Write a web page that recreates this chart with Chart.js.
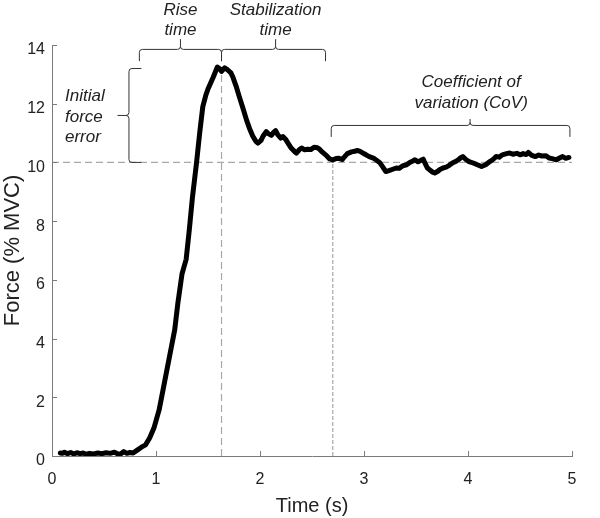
<!DOCTYPE html>
<html>
<head>
<meta charset="utf-8">
<script src="https://cdn.jsdelivr.net/npm/chart.js@4.4.0/dist/chart.umd.min.js"></script>
<style>
  body { margin: 0; background: #fff; }
</style>
</head>
<body>
<canvas id="force-chart" width="600" height="518"></canvas>
<script>
// tiempo (s) y fuerza (% MVC)
const timeS = [
  0.08, 0.10, 0.12, 0.15, 0.18, 0.21, 0.24, 0.27, 0.30, 0.33, 0.36, 0.40, 0.44, 0.48, 0.52, 0.56, 0.60, 0.63, 0.66, 0.69, 0.72, 0.75, 0.78,
  0.82, 0.86, 0.90, 0.94, 0.98, 1.03, 1.08, 1.13, 1.18, 1.21, 1.25, 1.27, 1.29, 1.32, 1.35, 1.39, 1.42, 1.45, 1.48, 1.50, 1.55, 1.59,
  1.61, 1.63, 1.66, 1.69, 1.72, 1.74, 1.77, 1.80, 1.84, 1.87, 1.90, 1.93, 1.96, 1.98, 2.01, 2.03, 2.06, 2.08, 2.11, 2.13, 2.15, 2.17,
  2.20, 2.22, 2.25, 2.28, 2.30, 2.33, 2.35, 2.38, 2.40, 2.43, 2.46, 2.49, 2.52, 2.55, 2.57, 2.60, 2.64, 2.67, 2.70, 2.73, 2.76, 2.79,
  2.81, 2.84, 2.88, 2.91, 2.94, 2.97, 3.01, 3.05, 3.09, 3.13, 3.15, 3.18, 3.21, 3.24, 3.27, 3.31, 3.34, 3.37, 3.41, 3.44, 3.47, 3.49,
  3.52, 3.55, 3.57, 3.59, 3.61, 3.64, 3.66, 3.68, 3.71, 3.73, 3.76, 3.79, 3.82, 3.85, 3.88, 3.91, 3.93, 3.95, 3.98, 4.01, 4.05, 4.09,
  4.13, 4.17, 4.21, 4.24, 4.27, 4.30, 4.33, 4.37, 4.40, 4.43, 4.47, 4.50, 4.53, 4.56, 4.58, 4.61, 4.63, 4.65, 4.68, 4.71, 4.75, 4.78,
  4.81, 4.85, 4.88, 4.91, 4.94, 4.97
];
const forceMVC = [
  0.10, 0.09, 0.13, 0.08, 0.12, 0.07, 0.11, 0.08, 0.10, 0.06, 0.09, 0.07, 0.10, 0.08, 0.11, 0.09, 0.13, 0.08, 0.07, 0.15, 0.09, 0.12, 0.10,
  0.20, 0.30, 0.38, 0.62, 0.95, 1.57, 2.48, 3.39, 4.30, 5.20, 6.20, 6.45, 6.70, 7.70, 8.80, 10.00, 11.00, 11.90, 12.30, 12.50, 12.90, 13.25,
  13.20, 13.10, 13.22, 13.15, 13.05, 12.90, 12.60, 12.25, 11.80, 11.45, 11.15, 10.90, 10.72, 10.66, 10.75, 10.90, 11.05, 10.98, 10.92, 11.02, 11.08, 10.95,
  10.83, 10.88, 10.77, 10.60, 10.49, 10.38, 10.32, 10.44, 10.49, 10.43, 10.45, 10.44, 10.52, 10.50, 10.46, 10.35, 10.23, 10.12, 10.09, 10.13, 10.14, 10.10,
  10.18, 10.30, 10.36, 10.38, 10.41, 10.36, 10.28, 10.20, 10.15, 10.05, 10.00, 9.85, 9.69, 9.72, 9.76, 9.81, 9.80, 9.88, 9.92, 10.00, 10.05, 10.09,
  10.02, 10.08, 10.11, 9.95, 9.81, 9.72, 9.67, 9.64, 9.70, 9.76, 9.81, 9.84, 9.90, 9.98, 10.03, 10.10, 10.16, 10.20, 10.10, 10.03, 9.98, 9.92,
  9.86, 9.92, 10.03, 10.10, 10.20, 10.18, 10.26, 10.30, 10.32, 10.28, 10.31, 10.26, 10.30, 10.27, 10.34, 10.25, 10.22, 10.20, 10.25, 10.22, 10.23, 10.15,
  10.13, 10.09, 10.15, 10.20, 10.14, 10.17
];

const xTicks = [0, 1, 2, 3, 4, 5];
const yTicks = [0, 2, 4, 6, 8, 10, 12, 14];

// marcas de referencia
const targetForce = 10;
const peakForce = 13.2;
const riseStart = 0.84;
const riseEnd = 1.63;
const stabEnd = 2.70;

// llaves: [x1, x2, nivel, extremos, punta, xPunta]
const riseBrace = [riseStart, riseEnd, 13.85, 13.45, 14.2, 1.235];
const stabBrace = [riseEnd, 2.63, 13.85, 13.45, 14.2, 2.15];
const covBrace = [2.685, 4.98, 11.26, 10.87, 11.48, 4.02];
// llave vertical: [x, y1, y2, xExtremos, xPunta, yPunta]
const errorBrace = [0.74, peakForce, targetForce, 0.86, 0.63, 11.6];

// textos: [lineas, x, y, alineacion]
const notes = [
  [['Rise', 'time'], 1.235, 15.2, 'center'],
  [['Stabilization', 'time'], 2.15, 15.2, 'center'],
  [['Initial', 'force', 'error'], 0.125, 12.25, 'left'],
  [['Coefficient of', 'variation (CoV)'], 4.03, 12.73, 'center']
];

const axisColor = '#7a7a7a';
const braceColor = '#333';
const FONT = '"Liberation Sans", Arial, sans-serif';

const refLines = {
  id: 'refLines',
  beforeDatasetsDraw(chart) {
    const { ctx, scales: { x, y } } = chart;
    ctx.save();
    ctx.strokeStyle = '#a8a8a8';
    ctx.lineWidth = 1.2;
    ctx.setLineDash([7, 4]);
    ctx.beginPath();
    ctx.moveTo(x.getPixelForValue(0), y.getPixelForValue(targetForce));
    ctx.lineTo(x.getPixelForValue(5), y.getPixelForValue(targetForce));
    ctx.moveTo(x.getPixelForValue(riseEnd), y.getPixelForValue(0));
    ctx.lineTo(x.getPixelForValue(riseEnd), y.getPixelForValue(peakForce));
    ctx.stroke();
    ctx.setLineDash([4, 2]);
    ctx.beginPath();
    ctx.moveTo(x.getPixelForValue(stabEnd), y.getPixelForValue(0));
    ctx.lineTo(x.getPixelForValue(stabEnd), y.getPixelForValue(targetForce));
    ctx.stroke();
    ctx.restore();
  }
};

const hBrace = (ctx, x, y, b) => {
  const x1 = x.getPixelForValue(b[0]), x2 = x.getPixelForValue(b[1]);
  const yl = y.getPixelForValue(b[2]), ye = y.getPixelForValue(b[3]);
  const yt = y.getPixelForValue(b[4]), xm = x.getPixelForValue(b[5]);
  const r = 3;
  ctx.beginPath();
  ctx.moveTo(x1, ye);
  ctx.lineTo(x1, yl + r);
  ctx.quadraticCurveTo(x1, yl, x1 + r, yl);
  ctx.lineTo(xm - r, yl);
  ctx.quadraticCurveTo(xm, yl, xm, yl - r);
  ctx.lineTo(xm, yt);
  ctx.moveTo(xm, yl - r);
  ctx.quadraticCurveTo(xm, yl, xm + r, yl);
  ctx.lineTo(x2 - r, yl);
  ctx.quadraticCurveTo(x2, yl, x2, yl + r);
  ctx.lineTo(x2, ye);
  ctx.stroke();
};

const vBrace = (ctx, x, y, b) => {
  const xl = x.getPixelForValue(b[0]);
  const y1 = y.getPixelForValue(b[1]), y2 = y.getPixelForValue(b[2]);
  const xe = x.getPixelForValue(b[3]), xt = x.getPixelForValue(b[4]);
  const ym = y.getPixelForValue(b[5]);
  const r = 3;
  ctx.beginPath();
  ctx.moveTo(xe, y1);
  ctx.lineTo(xl + r, y1);
  ctx.quadraticCurveTo(xl, y1, xl, y1 + r);
  ctx.lineTo(xl, ym - r);
  ctx.quadraticCurveTo(xl, ym, xl - r, ym);
  ctx.lineTo(xt, ym);
  ctx.moveTo(xl - r, ym);
  ctx.quadraticCurveTo(xl, ym, xl, ym + r);
  ctx.lineTo(xl, y2 - r);
  ctx.quadraticCurveTo(xl, y2, xl + r, y2);
  ctx.lineTo(xe, y2);
  ctx.stroke();
};

const annotations = {
  id: 'annotations',
  afterDraw(chart) {
    const { ctx, scales: { x, y } } = chart;
    ctx.save();
    // marcas de los ejes hacia dentro
    ctx.strokeStyle = axisColor;
    ctx.lineWidth = 1;
    ctx.beginPath();
    xTicks.forEach(v => {
      const px = Math.round(x.getPixelForValue(v)) + 0.5;
      ctx.moveTo(px, y.bottom);
      ctx.lineTo(px, y.bottom - 5);
    });
    yTicks.forEach(v => {
      const py = Math.round(y.getPixelForValue(v)) + 0.5;
      ctx.moveTo(x.left, py);
      ctx.lineTo(x.left + 5, py);
    });
    ctx.stroke();

    ctx.strokeStyle = braceColor;
    ctx.lineWidth = 1;
    hBrace(ctx, x, y, riseBrace);
    hBrace(ctx, x, y, stabBrace);
    hBrace(ctx, x, y, covBrace);
    vBrace(ctx, x, y, errorBrace);

    ctx.fillStyle = '#222';
    ctx.font = 'italic 17px ' + FONT;
    ctx.textBaseline = 'middle';
    notes.forEach(([lines, tx, ty, align]) => {
      ctx.textAlign = align;
      const px = x.getPixelForValue(tx);
      const py = y.getPixelForValue(ty);
      lines.forEach((line, i) => ctx.fillText(line, px, py + i * 20.5));
    });
    ctx.restore();
  }
};

const ctx = document.getElementById('force-chart');
new Chart(ctx, {
  type: 'line',
  data: {
    datasets: [{
      label: 'Force',
      data: timeS.map((t, i) => ({ x: t, y: forceMVC[i] })),
      borderColor: '#000',
      borderWidth: 5,
      pointRadius: 0,
      tension: 0,
      borderJoinStyle: 'round',
      borderCapStyle: 'round',
      fill: false
    }]
  },
  options: {
    responsive: false,
    animation: false,
    layout: { padding: { top: 45, right: 28, left: 0, bottom: 0 } },
    plugins: { legend: { display: false }, tooltip: { enabled: false } },
    scales: {
      x: {
        type: 'linear',
        min: 0,
        max: 5,
        afterFit: s => { s.height = 62; },
        afterBuildTicks: s => { s.ticks = xTicks.map(v => ({ value: v })); },
        grid: { display: false, drawTicks: false },
        border: { display: true, color: axisColor, width: 1 },
        ticks: { color: '#222', padding: 14, font: { family: FONT, size: 16 }, maxRotation: 0 },
        title: { display: true, text: 'Time (s)', color: '#222', font: { family: FONT, size: 20 }, padding: { top: 4, bottom: 0 } }
      },
      y: {
        min: 0,
        max: 14,
        afterFit: s => { s.width = 52; },
        afterBuildTicks: s => { s.ticks = yTicks.map(v => ({ value: v })); },
        grid: { display: false, drawTicks: false },
        border: { display: true, color: axisColor, width: 1 },
        ticks: { color: '#222', padding: 7, labelOffset: 5, font: { family: FONT, size: 16 } },
        title: { display: true, text: 'Force (% MVC)', color: '#222', font: { family: FONT, size: 22 }, padding: { top: 0, bottom: 0 } }
      }
    }
  },
  plugins: [refLines, annotations]
});
</script>
</body>
</html>
